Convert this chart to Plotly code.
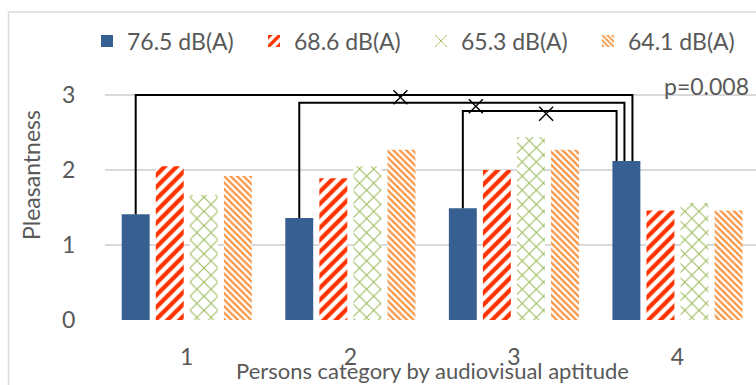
import plotly.graph_objects as go

# Mean pleasantness ratings per person category and sound level
categories = [1, 2, 3, 4]
series_names = ["76.5 dB(A)", "68.6 dB(A)", "65.3 dB(A)", "64.1 dB(A)"]
v_765 = [1.41, 1.36, 1.49, 2.12]
v_686 = [2.05, 1.89, 2.00, 1.46]
v_653 = [1.67, 2.05, 2.44, 1.56]
v_641 = [1.92, 2.27, 2.27, 1.46]
tick_vals = [0, 1, 2, 3]
tick_text = ["0", "1", "2", "3"]

# Significance brackets: from category blue bar to category 4 blue bar
bracket_from = [1, 2, 3]
bracket_level = [3.0, 2.897, 2.787]
bracket_end_shift = [0.037, -0.012, -0.06]
cross_x = [2.306, 2.767, 3.197]
cross_y = [2.97, 2.85, 2.75]
p_text = "p=0.008"

FONT = "Lato"
GREY = "#595959"
GRID = "#D9D9D9"
FS = 23

W, H = 756, 385
ML, MR, MT, MB = 105, 0, 70, 65
BARGAP = 0.167
XR = [0.5, 4.48]
YR = [0, 250 / 75]

styles = [
    dict(color="#375F92", pattern=None),
    dict(color="#FF3300", pattern=dict(shape="/", fgcolor="#FF3300", bgcolor="white",
                                       size=8.5, solidity=0.5, fillmode="replace")),
    dict(color="#9BBB59", pattern=dict(shape="x", fgcolor="#9BBB59", bgcolor="white",
                                       size=10, solidity=0.2, fillmode="replace")),
    dict(color="#F79646", pattern=dict(shape="\\", fgcolor="#F79646", bgcolor="white",
                                       size=4.6, solidity=0.5, fillmode="replace")),
]

fig = go.Figure()
for name, vals, st in zip(series_names, [v_765, v_686, v_653, v_641], styles):
    marker = dict(color=st["color"], line=dict(width=0))
    if st["pattern"]:
        marker["pattern"] = st["pattern"]
    fig.add_trace(go.Bar(x=categories, y=vals, name=name, marker=marker))

# bracket geometry derived from the grouped-bar layout
slot = (1 - BARGAP) / 4
blue_off = -1.5 * slot
for c, lvl, sh in zip(bracket_from, bracket_level, bracket_end_shift):
    x0 = c + blue_off
    x1 = 4 + blue_off + sh
    fig.add_trace(go.Scatter(
        x=[x0, x0, x1, x1],
        y=[v_765[c - 1], lvl, lvl, v_765[3]],
        mode="lines", line=dict(color="black", width=2),
        showlegend=False, hoverinfo="skip", cliponaxis=False))

fig.add_trace(go.Scatter(
    x=cross_x, y=cross_y, mode="markers",
    marker=dict(symbol="x-thin", size=14, line=dict(color="black", width=1.4)),
    showlegend=False, hoverinfo="skip", cliponaxis=False))

PW = W - ML - MR
PH = H - MT - MB

fig.update_layout(
    width=W, height=H,
    margin=dict(l=ML, r=MR, t=MT, b=MB),
    paper_bgcolor="white", plot_bgcolor="white",
    font=dict(family=FONT, size=FS, color=GREY),
    barmode="group", bargap=BARGAP, bargroupgap=0.18,
    showlegend=True,
    legend=dict(orientation="h", x=(87 - ML) / PW, xanchor="left",
                y=(H - MB - 41) / PH, yanchor="middle",
                entrywidth=122, entrywidthmode="pixels",
                font=dict(family=FONT, size=FS, color=GREY),
                bgcolor="rgba(0,0,0,0)", traceorder="normal"),
    xaxis=dict(range=XR, tickvals=categories, ticktext=[str(c) for c in categories],
               showgrid=False, zeroline=False, showline=False,
               ticks="outside", ticklen=16, tickcolor="rgba(0,0,0,0)",
               tickfont=dict(family=FONT, size=FS, color=GREY)),
    yaxis=dict(range=YR, tickvals=tick_vals, ticktext=tick_text,
               showgrid=True, gridcolor=GRID, gridwidth=1.5,
               zeroline=False, showline=False,
               ticks="outside", ticklen=24, tickcolor="rgba(0,0,0,0)",
               tickfont=dict(family=FONT, size=FS, color=GREY)),
    shapes=[
        dict(type="line", xref="paper", yref="paper",
             x0=(8.5 - ML) / PW, x1=1.05,
             y0=(H - MB - 12) / PH, y1=(H - MB - 12) / PH,
             line=dict(color=GRID, width=1.5)),
        dict(type="line", xref="paper", yref="paper",
             x0=(8.5 - ML) / PW, x1=(8.5 - ML) / PW,
             y0=-0.5, y1=(H - MB - 12) / PH,
             line=dict(color=GRID, width=1.5)),
    ],
    annotations=[
        dict(text="Pleasantness", xref="paper", yref="paper",
             x=(31 - ML) / PW, y=(H - MB - 175) / PH,
             textangle=-90, showarrow=False, xanchor="center", yanchor="middle",
             font=dict(family=FONT, size=FS, color=GREY)),
        dict(text="Persons category by audiovisual aptitude", xref="paper", yref="paper",
             x=(432 - ML) / PW, y=(H - MB - 370) / PH,
             showarrow=False, xanchor="center", yanchor="middle",
             font=dict(family=FONT, size=22, color=GREY)),
        dict(text=p_text, xref="paper", yref="paper",
             x=(751 - ML) / PW, y=(H - MB - 86) / PH,
             showarrow=False, xanchor="right", yanchor="middle",
             font=dict(family=FONT, size=FS, color=GREY)),
    ],
)

fig.write_html("out.html")
